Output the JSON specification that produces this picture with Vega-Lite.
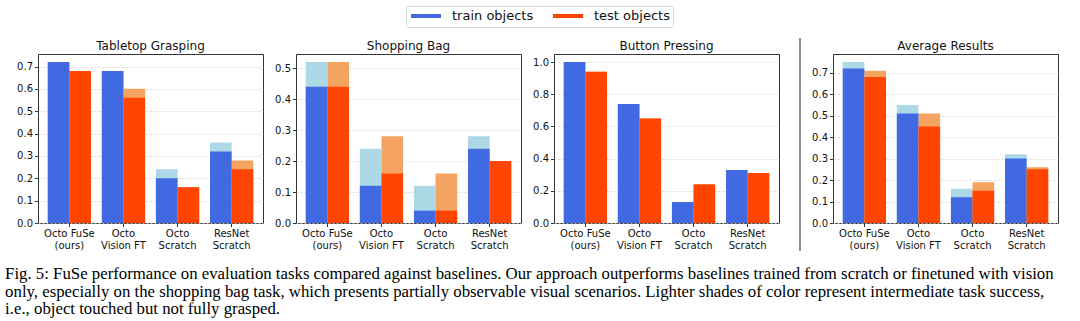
{
  "$schema": "https://vega.github.io/schema/vega-lite/v6.json",
  "padding": {"left": 5, "top": 5, "right": 0, "bottom": 0},
  "background": "white",
  "title": {
    "text": [
      "Fig. 5: FuSe performance on evaluation tasks compared against baselines. Our approach outperforms baselines trained from scratch or finetuned with vision",
      "only, especially on the shopping bag task, which presents partially observable visual scenarios. Lighter shades of color represent intermediate task success,",
      "i.e., object touched but not fully grasped."
    ],
    "orient": "bottom",
    "anchor": "start",
    "frame": "bounds",
    "dx": -11,
    "offset": 15,
    "font": "Liberation Serif",
    "fontSize": 16.8,
    "fontWeight": "normal",
    "color": "#000",
    "lineHeight": 17.2
  },
  "datasets": {
    "d": [
      {"task": "Tabletop Grasping", "method": "Octo FuSe|(ours)", "split": "train objects", "full": 0.72, "partial": 0.72},
      {"task": "Tabletop Grasping", "method": "Octo FuSe|(ours)", "split": "test objects", "full": 0.68, "partial": 0.68},
      {"task": "Tabletop Grasping", "method": "Octo|Vision FT", "split": "train objects", "full": 0.68, "partial": 0.68},
      {"task": "Tabletop Grasping", "method": "Octo|Vision FT", "split": "test objects", "full": 0.56, "partial": 0.60},
      {"task": "Tabletop Grasping", "method": "Octo|Scratch", "split": "train objects", "full": 0.20, "partial": 0.24},
      {"task": "Tabletop Grasping", "method": "Octo|Scratch", "split": "test objects", "full": 0.16, "partial": 0.16},
      {"task": "Tabletop Grasping", "method": "ResNet|Scratch", "split": "train objects", "full": 0.32, "partial": 0.36},
      {"task": "Tabletop Grasping", "method": "ResNet|Scratch", "split": "test objects", "full": 0.24, "partial": 0.28},

      {"task": "Shopping Bag", "method": "Octo FuSe|(ours)", "split": "train objects", "full": 0.44, "partial": 0.52},
      {"task": "Shopping Bag", "method": "Octo FuSe|(ours)", "split": "test objects", "full": 0.44, "partial": 0.52},
      {"task": "Shopping Bag", "method": "Octo|Vision FT", "split": "train objects", "full": 0.12, "partial": 0.24},
      {"task": "Shopping Bag", "method": "Octo|Vision FT", "split": "test objects", "full": 0.16, "partial": 0.28},
      {"task": "Shopping Bag", "method": "Octo|Scratch", "split": "train objects", "full": 0.04, "partial": 0.12},
      {"task": "Shopping Bag", "method": "Octo|Scratch", "split": "test objects", "full": 0.04, "partial": 0.16},
      {"task": "Shopping Bag", "method": "ResNet|Scratch", "split": "train objects", "full": 0.24, "partial": 0.28},
      {"task": "Shopping Bag", "method": "ResNet|Scratch", "split": "test objects", "full": 0.20, "partial": 0.20},

      {"task": "Button Pressing", "method": "Octo FuSe|(ours)", "split": "train objects", "full": 1.0, "partial": 1.0},
      {"task": "Button Pressing", "method": "Octo FuSe|(ours)", "split": "test objects", "full": 0.94, "partial": 0.94},
      {"task": "Button Pressing", "method": "Octo|Vision FT", "split": "train objects", "full": 0.74, "partial": 0.74},
      {"task": "Button Pressing", "method": "Octo|Vision FT", "split": "test objects", "full": 0.65, "partial": 0.65},
      {"task": "Button Pressing", "method": "Octo|Scratch", "split": "train objects", "full": 0.13, "partial": 0.13},
      {"task": "Button Pressing", "method": "Octo|Scratch", "split": "test objects", "full": 0.24, "partial": 0.24},
      {"task": "Button Pressing", "method": "ResNet|Scratch", "split": "train objects", "full": 0.33, "partial": 0.33},
      {"task": "Button Pressing", "method": "ResNet|Scratch", "split": "test objects", "full": 0.31, "partial": 0.31},

      {"task": "Average Results", "method": "Octo FuSe|(ours)", "split": "train objects", "full": 0.72, "partial": 0.75},
      {"task": "Average Results", "method": "Octo FuSe|(ours)", "split": "test objects", "full": 0.68, "partial": 0.71},
      {"task": "Average Results", "method": "Octo|Vision FT", "split": "train objects", "full": 0.51, "partial": 0.55},
      {"task": "Average Results", "method": "Octo|Vision FT", "split": "test objects", "full": 0.45, "partial": 0.51},
      {"task": "Average Results", "method": "Octo|Scratch", "split": "train objects", "full": 0.12, "partial": 0.16},
      {"task": "Average Results", "method": "Octo|Scratch", "split": "test objects", "full": 0.15, "partial": 0.19},
      {"task": "Average Results", "method": "ResNet|Scratch", "split": "train objects", "full": 0.30, "partial": 0.32},
      {"task": "Average Results", "method": "ResNet|Scratch", "split": "test objects", "full": 0.25, "partial": 0.26}
    ],
    "sep": [{"top": 1.095, "bottom": -0.165}]
  },
  "hconcat": [
    {
      "spacing": 10,
      "hconcat": [
        {
          "width": 225, "height": 169,
          "title": "Tabletop Grasping",
          "data": {"name": "d"},
          "transform": [{"filter": "datum.task == 'Tabletop Grasping'"}],
          "encoding": {
            "x": {"field": "method", "type": "nominal", "sort": null, "title": null,
                  "scale": {"paddingInner": 0.2, "paddingOuter": 0.18},
                  "axis": {"labelExpr": "split(datum.label, '|')", "labelLineHeight": 11.5}},
            "xOffset": {"field": "split", "type": "nominal", "sort": ["train objects", "test objects"], "scale": {"paddingInner": 0, "paddingOuter": 0}}
          },
          "layer": [
            {"mark": {"type": "bar"},
             "encoding": {
               "y": {"field": "partial", "type": "quantitative", "title": null,
                     "scale": {"domain": [0, 0.756], "nice": false},
                     "axis": {"values": [0, 0.1, 0.2, 0.3, 0.4, 0.5, 0.6, 0.7], "tickCount": 20, "format": ".1f"}},
               "color": {"condition": {"test": "datum.split == 'train objects'", "value": "#ADD8E6"}, "value": "#F4A460"}}},
            {"mark": {"type": "bar"},
             "encoding": {
               "y": {"field": "full", "type": "quantitative"},
               "color": {"field": "split", "type": "nominal",
                         "scale": {"domain": ["train objects", "test objects"], "range": ["#4169E1", "#FF4500"]},
                         "legend": {"title": null, "encode": {"symbols": {"update": {"stroke": {"scale": "color", "field": "value"}, "strokeWidth": {"value": 4}}}}}}}}
          ]
        },
        {
          "width": 225, "height": 169,
          "title": "Shopping Bag",
          "data": {"name": "d"},
          "transform": [{"filter": "datum.task == 'Shopping Bag'"}],
          "encoding": {
            "x": {"field": "method", "type": "nominal", "sort": null, "title": null,
                  "scale": {"paddingInner": 0.2, "paddingOuter": 0.18},
                  "axis": {"labelExpr": "split(datum.label, '|')", "labelLineHeight": 11.5}},
            "xOffset": {"field": "split", "type": "nominal", "sort": ["train objects", "test objects"], "scale": {"paddingInner": 0, "paddingOuter": 0}}
          },
          "layer": [
            {"mark": {"type": "bar"},
             "encoding": {
               "y": {"field": "partial", "type": "quantitative", "title": null,
                     "scale": {"domain": [0, 0.546], "nice": false},
                     "axis": {"values": [0, 0.1, 0.2, 0.3, 0.4, 0.5], "tickCount": 20, "format": ".1f"}},
               "color": {"condition": {"test": "datum.split == 'train objects'", "value": "#ADD8E6"}, "value": "#F4A460"}}},
            {"mark": {"type": "bar"},
             "encoding": {
               "y": {"field": "full", "type": "quantitative"},
               "color": {"field": "split", "type": "nominal",
                         "scale": {"domain": ["train objects", "test objects"], "range": ["#4169E1", "#FF4500"]},
                         "legend": {"title": null}}}}
          ]
        },
        {
          "width": 225, "height": 169,
          "title": "Button Pressing",
          "data": {"name": "d"},
          "transform": [{"filter": "datum.task == 'Button Pressing'"}],
          "encoding": {
            "x": {"field": "method", "type": "nominal", "sort": null, "title": null,
                  "scale": {"paddingInner": 0.2, "paddingOuter": 0.18},
                  "axis": {"labelExpr": "split(datum.label, '|')", "labelLineHeight": 11.5}},
            "xOffset": {"field": "split", "type": "nominal", "sort": ["train objects", "test objects"], "scale": {"paddingInner": 0, "paddingOuter": 0}}
          },
          "layer": [
            {"mark": {"type": "bar"},
             "encoding": {
               "y": {"field": "partial", "type": "quantitative", "title": null,
                     "scale": {"domain": [0, 1.05], "nice": false},
                     "axis": {"values": [0, 0.2, 0.4, 0.6, 0.8, 1.0], "tickCount": 20, "format": ".1f"}},
               "color": {"condition": {"test": "datum.split == 'train objects'", "value": "#ADD8E6"}, "value": "#F4A460"}}},
            {"mark": {"type": "bar"},
             "encoding": {
               "y": {"field": "full", "type": "quantitative"},
               "color": {"field": "split", "type": "nominal",
                         "scale": {"domain": ["train objects", "test objects"], "range": ["#4169E1", "#FF4500"]},
                         "legend": {"title": null}}}}
          ]
        },
        {
          "width": 20, "height": 169,
          "view": {"stroke": null},
          "data": {"name": "sep"},
          "mark": {"type": "rule", "color": "#444", "strokeWidth": 1.2, "clip": false},
          "encoding": {
            "y": {"field": "top", "type": "quantitative", "axis": null, "scale": {"domain": [0, 1], "nice": false, "zero": false}},
            "y2": {"field": "bottom"}
          }
        }
      ]
    },
    {
      "width": 225, "height": 169,
      "title": "Average Results",
      "data": {"name": "d"},
      "transform": [{"filter": "datum.task == 'Average Results'"}],
      "encoding": {
        "x": {"field": "method", "type": "nominal", "sort": null, "title": null,
              "scale": {"paddingInner": 0.2, "paddingOuter": 0.18},
              "axis": {"labelExpr": "split(datum.label, '|')", "labelLineHeight": 11.5}},
        "xOffset": {"field": "split", "type": "nominal", "sort": ["train objects", "test objects"], "scale": {"paddingInner": 0, "paddingOuter": 0}}
      },
      "layer": [
        {"mark": {"type": "bar"},
         "encoding": {
           "y": {"field": "partial", "type": "quantitative", "title": null,
                 "scale": {"domain": [0, 0.7875], "nice": false},
                 "axis": {"values": [0, 0.1, 0.2, 0.3, 0.4, 0.5, 0.6, 0.7], "tickCount": 20, "format": ".1f"}},
           "color": {"condition": {"test": "datum.split == 'train objects'", "value": "#ADD8E6"}, "value": "#F4A460"}}},
        {"mark": {"type": "bar"},
         "encoding": {
           "y": {"field": "full", "type": "quantitative"},
           "color": {"field": "split", "type": "nominal",
                     "scale": {"domain": ["train objects", "test objects"], "range": ["#4169E1", "#FF4500"]},
                     "legend": {"title": null}}}}
      ]
    }
  ],
  "spacing": 1,
  "config": {
    "font": "DejaVu Sans",
    "view": {"stroke": "#333", "strokeWidth": 1},
    "axis": {"labelFont": "DejaVu Sans", "labelFontSize": 10, "labelColor": "#111", "tickColor": "#333", "tickSize": 3.5, "domain": false, "labelPadding": 2, "labelOverlap": false},
    "axisY": {"grid": true, "gridColor": "#cfcfcf", "gridDash": [2, 2], "gridWidth": 0.8, "tickCount": 20},
    "axisX": {"grid": false, "labelAngle": 0},
    "title": {"fontSize": 12, "fontWeight": "normal", "font": "DejaVu Sans", "color": "#111", "offset": 1},
    "legend": {
      "orient": "none", "legendX": 368, "legendY": -48, "direction": "horizontal",
      "symbolType": "M-1,0H5", "symbolSize": 100, "symbolStrokeWidth": 4,
      "labelFont": "DejaVu Sans", "labelFontSize": 13, "labelColor": "#111", "labelOffset": 29,
      "columnPadding": 11, "padding": 3, "strokeColor": "#d5d5d5", "cornerRadius": 3, "fillColor": "white"
    }
  }
}
